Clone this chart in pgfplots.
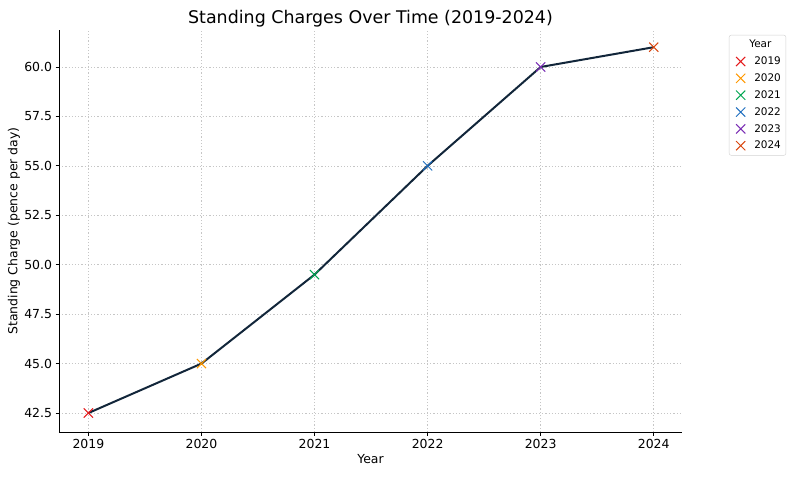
\documentclass[border=0pt]{standalone}
\usepackage{pgfplots}
\pgfplotsset{compat=1.18}
\usepackage{fontspec}
\setmainfont{DejaVu Sans}
\definecolor{c19}{HTML}{E41A1C}
\definecolor{c20}{HTML}{FF9900}
\definecolor{c21}{HTML}{00A651}
\definecolor{c22}{HTML}{1F6FC0}
\definecolor{c23}{HTML}{7B2FB5}
\definecolor{c24}{HTML}{D9470F}
\definecolor{linec}{HTML}{12263A}
\begin{document}
\begin{tikzpicture}[x=1bp,y=1bp]
\useasboundingbox (-59bp,-45bp) rectangle (736bp,432bp);
\begin{axis}[
  scale only axis, width=623bp, height=402bp,
  at={(0,0)}, anchor=south west,
  xmin=2018.74, xmax=2024.25, ymin=41.54, ymax=61.87,
  axis x line*=bottom, axis y line*=left,
  axis line style={line width=0.8bp},
  xtick={2019,2020,2021,2022,2023,2024},
  ytick={42.5,45,47.5,50,52.5,55,57.5,60},
  x tick label style={/pgf/number format/.cd,1000 sep={},assume math mode=true},
  y tick label style={/pgf/number format/.cd,fixed,fixed zerofill,precision=1,assume math mode=true},
  tick label style={font=\fontsize{12.5}{15}\selectfont},
  tick align=outside, major tick length=3.5bp,
  tick style={black, line width=0.8bp},
  grid=major,
  grid style={dash pattern=on 1.2bp off 2bp, gray!45, line width=0.6bp},
  title={Standing Charges Over Time (2019-2024)},
  title style={font=\fontsize{17.5}{21}\selectfont, at={(axis description cs:0.5,1.0124)}, anchor=center},
  xlabel={Year}, ylabel={Standing Charge (pence per day)},
  label style={font=\fontsize{12.5}{15}\selectfont},
  xlabel style={at={(axis description cs:0.5,-0.067)}, anchor=center},
  ylabel style={at={(axis description cs:-0.0722,0.5)}, anchor=center},
  legend style={at={(rel axis cs:1.0754,0.9876)}, anchor=north west,
    font=\fontsize{10.5}{12}\selectfont, draw=gray!35, rounded corners=2bp,
    row sep=3.6bp, inner sep=3bp},
  legend cell align=left,
  mark options={solid},
]
\addplot[linec, line width=2bp, forget plot] coordinates {(2019,42.5) (2020,45) (2021,49.5) (2022,55) (2023,60) (2024,61)};
\addlegendimage{empty legend}
\addlegendentry{\hspace{2bp}Year}
\addplot[only marks, mark=x, mark size=6.5bp, c19, line width=1bp] coordinates {(2019,42.5)};
\addlegendentry{\hspace{7bp}2019}
\addplot[only marks, mark=x, mark size=6.5bp, c20, line width=1bp] coordinates {(2020,45)};
\addlegendentry{\hspace{7bp}2020}
\addplot[only marks, mark=x, mark size=6.5bp, c21, line width=1bp] coordinates {(2021,49.5)};
\addlegendentry{\hspace{7bp}2021}
\addplot[only marks, mark=x, mark size=6.5bp, c22, line width=1bp] coordinates {(2022,55)};
\addlegendentry{\hspace{7bp}2022}
\addplot[only marks, mark=x, mark size=6.5bp, c23, line width=1bp] coordinates {(2023,60)};
\addlegendentry{\hspace{7bp}2023}
\addplot[only marks, mark=x, mark size=6.5bp, c24, line width=1bp] coordinates {(2024,61)};
\addlegendentry{\hspace{7bp}2024}
\end{axis}
\end{tikzpicture}
\end{document}
